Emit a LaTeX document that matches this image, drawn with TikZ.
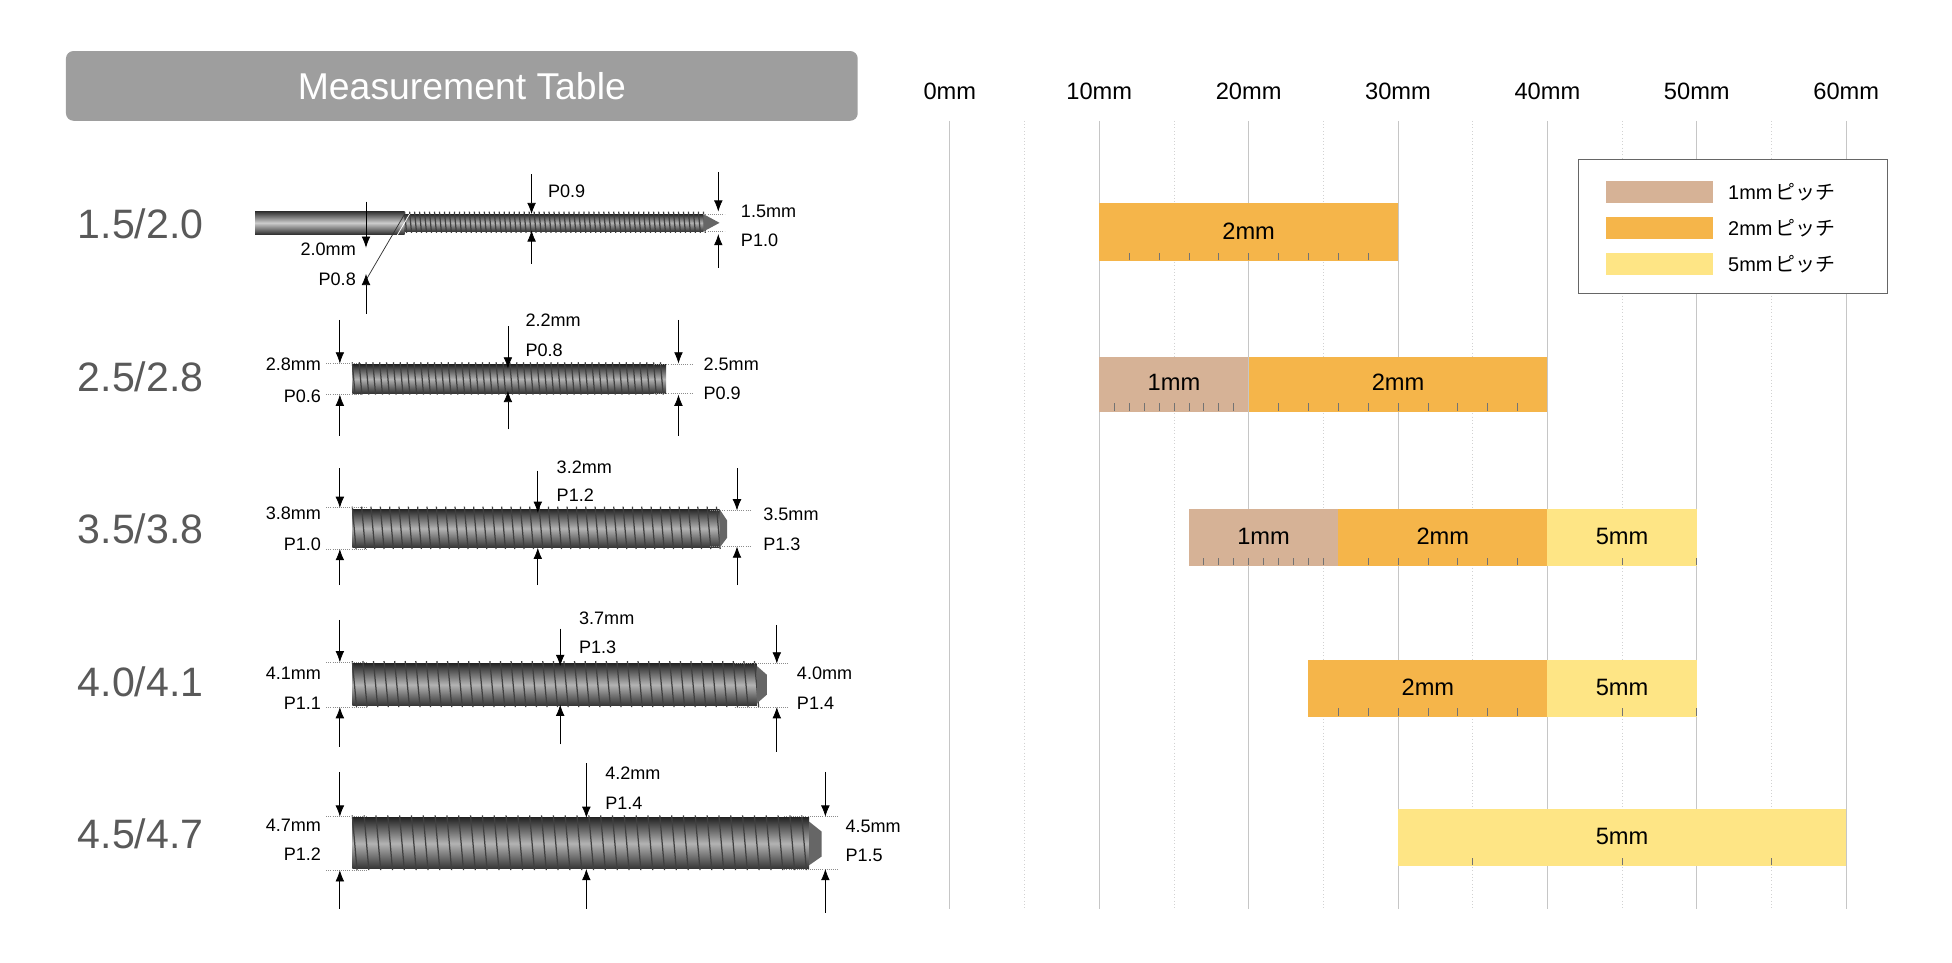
\documentclass[tikz,border=0pt]{standalone}
\usepackage{fontspec}
\usetikzlibrary{arrows.meta}
\setmainfont{Liberation Sans}
\newfontfamily\cjk{Noto Sans CJK JP}
\begin{document}
\begin{tikzpicture}[x=1pt,y=-1pt,
  grid/.style={gray!45,line width=0.8pt},
  subgrid/.style={gray!35,dotted,line width=0.7pt},
  tk/.style={black!55,line width=0.6pt},
  lbl/.style={font=\fontsize{15}{15}\selectfont,inner sep=0pt},
  rowlbl/.style={font=\fontsize{33}{33}\selectfont,text=black!65,inner sep=0pt},
  dim/.style={-{Latex[length=9pt,width=7pt]},line width=0.6pt},
  dl/.style={black!45,densely dotted,line width=0.7pt},
  dt/.style={font=\fontsize{14.5}{14.5}\selectfont,inner sep=0pt}]
\useasboundingbox (0,0) rectangle (1568,773);
\definecolor{tan}{HTML}{D6B296}
\definecolor{org}{HTML}{F5B54A}
\definecolor{yel}{HTML}{FEE585}
% title
\node[fill=black!38,rounded corners=6pt,minimum width=636pt,minimum height=56pt,text=white,font=\fontsize{30}{30}\selectfont] (title) at (371,69) {Measurement Table};
% grid
\foreach \m in {0,10,...,60}{
  \draw[grid] ({763+12*\m},97) -- ({763+12*\m},730);
  \node[lbl,font=\fontsize{19}{19}\selectfont] (ax\m) at ({763+12*\m},73) {\m mm};}
\foreach \m in {5,15,...,55}{\draw[subgrid] ({763+12*\m},97) -- ({763+12*\m},730);}
% bars
\newcommand\barseg[5]{\fill[#5] ({763+12*#3},#1) rectangle ({763+12*#4},#2);}
\newcommand\barticks[4]{\foreach \t in {#2,#3,...,#4}{\draw[tk] ({763+12*\t},#1) -- ({763+12*\t},{#1-6});}}
% row1
\barseg{163}{210}{10}{30}{org}\barticks{209}{12}{14}{28}
\node[lbl,font=\fontsize{19}{19}\selectfont] (b1) at (1003,186) {2mm};
% row2
\barseg{287}{331}{10}{20}{tan}\barseg{287}{331}{20}{40}{org}
\barticks{330}{11}{12}{19}\barticks{330}{22}{24}{38}
\draw[grid] (1003,287) -- (1003,331);
\node[lbl,font=\fontsize{19}{19}\selectfont] (b2a) at (943,307) {1mm};
\node[lbl,font=\fontsize{19}{19}\selectfont] (b2b) at (1123,307) {2mm};
% row3
\barseg{409}{455}{16}{26}{tan}\barseg{409}{455}{26}{40}{org}\barseg{409}{455}{40}{50}{yel}
\barticks{454}{17}{18}{25}\barticks{454}{28}{30}{38}\barticks{454}{45}{50}{45}
\node[lbl,font=\fontsize{19}{19}\selectfont] (b3a) at (1015,431) {1mm};
\node[lbl,font=\fontsize{19}{19}\selectfont] (b3b) at (1159,431) {2mm};
\node[lbl,font=\fontsize{19}{19}\selectfont] (b3c) at (1303,431) {5mm};
% row4
\barseg{530}{576}{24}{40}{org}\barseg{530}{576}{40}{50}{yel}
\barticks{575}{26}{28}{38}\barticks{575}{45}{50}{45}
\node[lbl,font=\fontsize{19}{19}\selectfont] (b4a) at (1147,552) {2mm};
\node[lbl,font=\fontsize{19}{19}\selectfont] (b4b) at (1303,552) {5mm};
% row5
\barseg{650}{696}{30}{60}{yel}\barticks{695}{35}{45}{55}
\node[lbl,font=\fontsize{19}{19}\selectfont] (b5) at (1303,672) {5mm};
% legend
\draw[black!60,fill=white,line width=0.8pt] (1268,128) rectangle (1516,236);
\foreach \c/\t/\y in {tan/1/154,org/2/183,yel/5/212}{
  \fill[\c] (1290,{\y-9}) rectangle (1376,{\y+9});
  \node[lbl,anchor=west,font=\fontsize{16}{16}\selectfont] (lg\t) at (1388,\y) {\t mm\,{\cjk ピッチ}};}
% row labels
\foreach \a/\b/\y [count=\i] in {1.5/2.0/180,2.5/2.8/303,3.5/3.8/425,4.0/4.1/548,4.5/4.7/670}{
  \node[rowlbl] (r\i) at (113,\y) {\a/\b};}
% screws
\newcommand\screw[5]{%
  \shade[top color=black!85,bottom color=black!80,middle color=black!30] (#1,#2) rectangle (#3,#4);
  \pgfmathsetmacro\scrB{#1+#5}%
  \foreach \q in {#1,\scrB,...,#3}{\draw[black!75,line width=1pt] (\q,{#2-2}) -- ({\q+#5*0.4},{#4+1});}}
% row1 screw
\shade[top color=black!80,bottom color=black!80,middle color=black!20] (205,170) rectangle (325,188);
\screw{325}{172}{565}{186}{4}
\fill[black!60] (565,172) -- (578,179) -- (565,186) -- cycle;
\draw[black!80,line width=0.6pt] (294,225) -- (325,172);
\draw[white,line width=0.6pt] (298,225) -- (329,172);
\newcommand\dimpair[5]{\draw[dim] (#1,#2) -- (#1,#3); \draw[dim] (#1,#5) -- (#1,#4);}
% row1 dims
\dimpair{294}{162}{199}{220}{252}
\node[dt,anchor=east] (d1a) at (286,200) {2.0mm};
\node[dt,anchor=east] (d1b) at (286,224) {P0.8};
\dimpair{427}{140}{172}{185}{212}
\node[dt,anchor=west] (d1c) at (440,154) {P0.9};
\dimpair{577}{138}{170}{188}{215}
\draw[dl] (565,172) -- (582,172); \draw[dl] (565,186) -- (582,186);
\node[dt,anchor=west] (d1d) at (595,170) {1.5mm};
\node[dt,anchor=west] (d1e) at (595,193) {P1.0};
% row2
\screw{283}{293}{535}{316}{5.5}
\draw[dl] (262,292) -- (290,292); \draw[dl] (262,317) -- (290,317);
\draw[dl] (525,293) -- (556,293); \draw[dl] (525,316) -- (556,316);
\dimpair{273}{257}{292}{317}{350}
\node[dt,anchor=east] (d2a) at (258,293) {2.8mm};
\node[dt,anchor=east] (d2b) at (258,318) {P0.6};
\dimpair{408}{262}{296}{314}{345}
\node[dt,anchor=west] (d2c) at (422,257) {2.2mm};
\node[dt,anchor=west] (d2d) at (422,281) {P0.8};
\dimpair{545}{257}{292}{317}{350}
\node[dt,anchor=west] (d2e) at (565,293) {2.5mm};
\node[dt,anchor=west] (d2f) at (565,316) {P0.9};
% row3
\screw{283}{409}{578}{440}{7.5}
\fill[black!60] (578,409) -- (584,418) -- (584,432) -- (578,440) -- cycle;
\draw[dl] (262,408) -- (295,408); \draw[dl] (262,441) -- (295,441);
\draw[dl] (570,410) -- (603,410); \draw[dl] (570,439) -- (603,439);
\dimpair{273}{376}{408}{441}{470}
\node[dt,anchor=east] (d3a) at (258,412) {3.8mm};
\node[dt,anchor=east] (d3b) at (258,437) {P1.0};
\dimpair{432}{378}{412}{440}{470}
\node[dt,anchor=west] (d3c) at (447,375) {3.2mm};
\node[dt,anchor=west] (d3d) at (447,398) {P1.2};
\dimpair{592}{376}{410}{439}{470}
\node[dt,anchor=west] (d3e) at (613,413) {3.5mm};
\node[dt,anchor=west] (d3f) at (613,437) {P1.3};
% row4
\screw{283}{533}{608}{567}{8.5}
\fill[black!60] (608,535) -- (616,542) -- (616,558) -- (608,565) -- cycle;
\draw[dl] (262,532) -- (295,532); \draw[dl] (262,568) -- (295,568);
\draw[dl] (590,533) -- (634,533); \draw[dl] (590,568) -- (634,568);
\dimpair{273}{498}{532}{568}{600}
\node[dt,anchor=east] (d4a) at (258,541) {4.1mm};
\node[dt,anchor=east] (d4b) at (258,565) {P1.1};
\dimpair{450}{505}{535}{566}{598}
\node[dt,anchor=west] (d4c) at (465,497) {3.7mm};
\node[dt,anchor=west] (d4d) at (465,520) {P1.3};
\dimpair{624}{502}{533}{568}{604}
\node[dt,anchor=west] (d4e) at (640,541) {4.0mm};
\node[dt,anchor=west] (d4f) at (640,565) {P1.4};
% row5
\screw{283}{657}{650}{698}{9.5}
\fill[black!60] (650,660) -- (660,668) -- (660,688) -- (650,695) -- cycle;
\draw[dl] (262,656) -- (295,656); \draw[dl] (262,699) -- (295,699);
\draw[dl] (630,656) -- (673,656); \draw[dl] (630,698) -- (673,698);
\dimpair{273}{620}{656}{699}{730}
\node[dt,anchor=east] (d5a) at (258,663) {4.7mm};
\node[dt,anchor=east] (d5b) at (258,686) {P1.2};
\dimpair{471}{613}{657}{698}{730}
\node[dt,anchor=west] (d5c) at (486,621) {4.2mm};
\node[dt,anchor=west] (d5d) at (486,645) {P1.4};
\dimpair{663}{620}{656}{698}{733}
\node[dt,anchor=west] (d5e) at (679,664) {4.5mm};
\node[dt,anchor=west] (d5f) at (679,687) {P1.5};
\end{tikzpicture}
\end{document}
